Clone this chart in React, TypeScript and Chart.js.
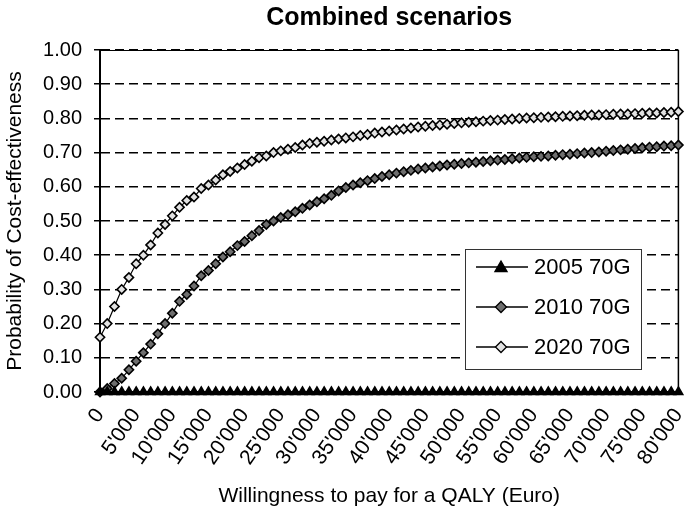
import React, { useEffect, useRef } from "react";
import { Chart, registerables } from "chart.js";
import { drawPoint } from "chart.js/helpers";

Chart.register(...registerables);

const FONT = "'Liberation Sans', Arial, Helvetica, sans-serif";

const chartTitle = "Combined scenarios";
const xTitle = "Willingness to pay for a QALY (Euro)";
const yTitle = "Probability of Cost-effectiveness";

const wtp = [
  0, 1000, 2000, 3000, 4000, 5000, 6000, 7000, 8000, 9000,
  10000, 11000, 12000, 13000, 14000, 15000, 16000, 17000, 18000, 19000,
  20000, 21000, 22000, 23000, 24000, 25000, 26000, 27000, 28000, 29000,
  30000, 31000, 32000, 33000, 34000, 35000, 36000, 37000, 38000, 39000,
  40000, 41000, 42000, 43000, 44000, 45000, 46000, 47000, 48000, 49000,
  50000, 51000, 52000, 53000, 54000, 55000, 56000, 57000, 58000, 59000,
  60000, 61000, 62000, 63000, 64000, 65000, 66000, 67000, 68000, 69000,
  70000, 71000, 72000, 73000, 74000, 75000, 76000, 77000, 78000, 79000,
  80000,
];

const s2005 = [
  0, 0, 0, 0, 0, 0, 0, 0, 0, 0,
  0, 0, 0, 0, 0, 0, 0, 0, 0, 0,
  0, 0, 0, 0, 0, 0, 0, 0, 0, 0,
  0, 0, 0, 0, 0, 0, 0, 0, 0, 0,
  0, 0, 0, 0, 0, 0, 0, 0, 0, 0,
  0, 0, 0, 0, 0, 0, 0, 0, 0, 0,
  0, 0, 0, 0, 0, 0, 0, 0, 0, 0,
  0, 0, 0, 0, 0, 0, 0, 0, 0, 0,
  0,
];

const s2010 = [
  0.0, 0.01, 0.025, 0.04, 0.065, 0.09, 0.115, 0.14, 0.17, 0.2,
  0.23, 0.265, 0.285, 0.31, 0.34, 0.355, 0.375, 0.395, 0.41, 0.428,
  0.44, 0.457, 0.472, 0.49, 0.5, 0.51, 0.518, 0.527, 0.537, 0.547,
  0.556, 0.565, 0.575, 0.588, 0.598, 0.605, 0.612, 0.618, 0.624, 0.63,
  0.635, 0.64, 0.644, 0.648, 0.652, 0.655, 0.658, 0.661, 0.664, 0.666,
  0.668, 0.67, 0.672, 0.674, 0.676, 0.678, 0.68, 0.682, 0.684, 0.686,
  0.688, 0.689, 0.69, 0.692, 0.694, 0.695, 0.697, 0.699, 0.7, 0.702,
  0.704, 0.706, 0.708, 0.71, 0.712, 0.714, 0.716, 0.717, 0.719, 0.72,
  0.722,
];

const s2020 = [
  0.16, 0.2, 0.25, 0.3, 0.335, 0.375, 0.4, 0.43, 0.465, 0.49,
  0.515, 0.54, 0.56, 0.57, 0.595, 0.605, 0.62, 0.635, 0.645, 0.655,
  0.665, 0.675, 0.685, 0.69, 0.7, 0.705, 0.71, 0.715, 0.722, 0.727,
  0.73, 0.733, 0.737, 0.74, 0.743, 0.746, 0.75, 0.753, 0.757, 0.76,
  0.763, 0.766, 0.769, 0.772, 0.775, 0.777, 0.779, 0.781, 0.783, 0.785,
  0.787, 0.789, 0.79, 0.792, 0.794, 0.795, 0.797, 0.798, 0.8, 0.801,
  0.802, 0.803, 0.804, 0.805, 0.806, 0.807, 0.808, 0.809, 0.81, 0.81,
  0.811, 0.812, 0.813, 0.813, 0.814, 0.815, 0.816, 0.816, 0.817, 0.818,
  0.82,
];

const xTickLabels = [
  "0", "5'000", "10'000", "15'000", "20'000", "25'000", "30'000", "35'000",
  "40'000", "45'000", "50'000", "55'000", "60'000", "65'000", "70'000",
  "75'000", "80'000",
];

const seriesNames = ["2005 70G", "2010 70G", "2020 70G"];
const seriesStyles = ["triangle", "rectRot", "rectRot"];
const seriesFill = ["#000000", "#6e6e6e", "#e2e2e2"];

const framePlugin = {
  id: "framePlugin",
  beforeDatasetsDraw(chart: any) {
    const { ctx, chartArea } = chart;
    const { left, right, top, bottom } = chartArea;
    ctx.save();
    ctx.strokeStyle = "#000";
    ctx.lineWidth = 1;
    ctx.beginPath();
    ctx.moveTo(left, top + 0.5);
    ctx.lineTo(right, top + 0.5);
    ctx.stroke();
    ctx.lineWidth = 1.5;
    ctx.beginPath();
    ctx.moveTo(right, top);
    ctx.lineTo(right, bottom);
    ctx.stroke();
    ctx.restore();
  },
  afterDraw(chart: any) {
    const { ctx, chartArea } = chart;
    ctx.save();
    // title
    ctx.fillStyle = "#000";
    ctx.font = `bold 25px ${FONT}`;
    ctx.textAlign = "center";
    ctx.textBaseline = "middle";
    ctx.fillText(chartTitle, (chartArea.left + chartArea.right) / 2, 18);

    // legend
    const bx = 465, by = 249, bw = 176, bh = 120;
    ctx.fillStyle = "#fff";
    ctx.fillRect(bx, by, bw, bh);
    ctx.strokeStyle = "#333";
    ctx.lineWidth = 1;
    ctx.strokeRect(bx + 0.5, by + 0.5, bw, bh);
    const rowY = [267, 307, 347];
    for (let i = 0; i < seriesNames.length; i++) {
      const y = rowY[i];
      ctx.strokeStyle = "#000";
      ctx.lineWidth = 1.3;
      ctx.beginPath();
      ctx.moveTo(476, y);
      ctx.lineTo(528, y);
      ctx.stroke();
      ctx.fillStyle = seriesFill[i];
      ctx.strokeStyle = "#000";
      ctx.lineWidth = 1.3;
      drawPoint(
        ctx,
        {
          pointStyle: seriesStyles[i] as any,
          radius: i === 0 ? 7 : 5.5,
          rotation: 0,
          borderWidth: 1.3,
        } as any,
        501,
        i === 0 ? y + 1 : y
      );
      ctx.fillStyle = "#000";
      ctx.font = `22px ${FONT}`;
      ctx.textAlign = "left";
      ctx.textBaseline = "middle";
      ctx.fillText(seriesNames[i], 534, y + 1);
    }
    ctx.restore();
  },
};

export default function App() {
  const ref = useRef<HTMLCanvasElement | null>(null);

  useEffect(() => {
    document.body.style.margin = "0";
    const canvas = ref.current;
    if (!canvas) return;
    const allSeries = [s2005, s2010, s2020];
    const datasets = allSeries.map((s, i) => ({
      label: seriesNames[i],
      data: wtp.map((x, j) => ({ x, y: s[j] })),
      borderColor: "#000",
      borderWidth: 1.2,
      pointStyle: seriesStyles[i],
      pointRadius: i === 0 ? 5 : 4.6,
      pointBorderWidth: 1.6,
      pointBackgroundColor: seriesFill[i],
      pointBorderColor: "#000",
      backgroundColor: seriesFill[i],
      fill: false,
      tension: 0,
      clip: false as any,
    }));

    const chart = new Chart(canvas, {
      type: "line",
      data: { datasets },
      plugins: [framePlugin],
      options: {
        animation: false,
        responsive: false,
        maintainAspectRatio: false,
        layout: { padding: { top: 50, right: 6, left: 0, bottom: 0 } },
        plugins: {
          legend: { display: false },
          title: { display: false },
          tooltip: { enabled: false },
        },
        scales: {
          x: {
            type: "linear",
            min: 0,
            max: 80000,
            afterFit(scale: any) {
              scale.height = 121;
              scale.paddingLeft = 0;
              scale.paddingRight = 0;
            },
            grid: { display: false, drawTicks: true, tickLength: 8 },
            border: { display: true, color: "#000", width: 2.5 },
            ticks: {
              stepSize: 5000,
              autoSkip: false,
              minRotation: 55,
              maxRotation: 55,
              padding: 4,
              color: "#000",
              font: { family: FONT, size: 21 },
              callback: (v: any) => xTickLabels[Math.round(Number(v) / 5000)] ?? "",
            },
            title: {
              display: true,
              text: xTitle,
              color: "#000",
              font: { family: FONT, size: 21 },
              padding: { top: 0, bottom: 4 },
            },
          },
          y: {
            type: "linear",
            min: 0,
            max: 1,
            afterFit(scale: any) {
              scale.width = 100;
            },
            grid: {
              display: true,
              color: "#000",
              lineWidth: 1.5,
              drawTicks: true,
              tickLength: 6,
              tickBorderDash: [],
            } as any,
            border: { display: true, color: "#000", width: 2, dash: [9, 5] },
            ticks: {
              stepSize: 0.1,
              padding: 12,
              color: "#000",
              font: { family: FONT, size: 20 },
              callback: (v: any) => Number(v).toFixed(2),
            },
            title: {
              display: true,
              text: yTitle,
              color: "#000",
              font: { family: FONT, size: 21 },
              padding: { top: 3, bottom: 0 },
            },
          },
        },
      } as any,
    });
    return () => chart.destroy();
  }, []);

  return (
    <div style={{ width: 685, height: 513, background: "#fff" }}>
      <canvas ref={ref} width={685} height={513} style={{ display: "block" }} />
    </div>
  );
}
